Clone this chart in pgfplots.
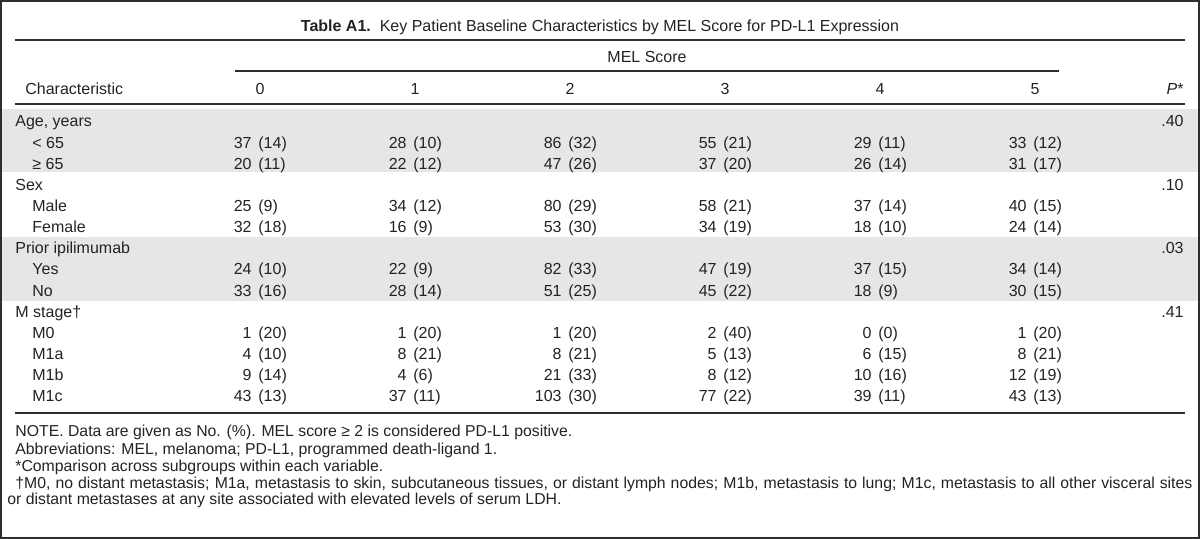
\documentclass[border=0pt]{standalone}
\usepackage{pgfplots}
\usepackage{pgfplotstable}
\pgfplotsset{compat=1.18}
\usepackage{fontspec}
\setmainfont{Liberation Sans}
\definecolor{bandgray}{RGB}{230,230,230}
\definecolor{rulec}{RGB}{45,45,45}
\definecolor{txt}{RGB}{35,35,35}
\newcommand\tf{\fontsize{8}{9.6}\selectfont}
\newcommand\nf{\fontsize{7.9}{9.4}\selectfont}

% row index i: baseline y = 127 + 21.13*i
\pgfplotstableread{
i  n0 p0 n1 p1 n2  p2 n3 p3 n4 p4 n5 p5
1  37 14 28 10 86  32 55 21 29 11 33 12
2  20 11 22 12 47  26 37 20 26 14 31 17
4  25 9  34 12 80  29 58 21 37 14 40 15
5  32 18 16 9  53  30 34 19 18 10 24 14
7  24 10 22 9  82  33 47 19 37 15 34 14
8  33 16 28 14 51  25 45 22 18 9  30 15
10 1  20 1  20 1   20 2  40 0  0  1  20
11 4  10 8  21 8   21 5  13 6  15 8  21
12 9  14 4  6  21  33 8  12 10 16 12 19
13 43 13 37 11 103 30 77 22 39 11 43 13
}\celldata

\pgfplotstableread{
i  x  label
0  15 {Age, years}
1  32 {< 65}
2  32 {≥ 65}
3  15 {Sex}
4  32 {Male}
5  32 {Female}
6  15 {Prior ipilimumab}
7  32 {Yes}
8  32 {No}
9  15 {M stage†}
10 32 {M0}
11 32 {M1a}
12 32 {M1b}
13 32 {M1c}
}\labeldata

\pgfplotstableread{
i p
0 .40
3 .10
6 .03
9 .41
}\pdata

\begin{document}
\begin{tikzpicture}
\begin{axis}[
  hide axis, scale only axis,
  width=600pt, height=269.5pt,
  xmin=0, xmax=1200, ymin=0, ymax=539,
  y dir=reverse, clip=false,
  point meta=explicit symbolic,
]
% shaded bands
\fill[bandgray] (axis cs:2,109) rectangle (axis cs:1198,172.4);
\fill[bandgray] (axis cs:2,236.8) rectangle (axis cs:1198,300.6);
% border
\draw[rulec, line width=1pt] (axis cs:1,1) rectangle (axis cs:1199,538);
% rules
\draw[rulec, line width=1pt] (axis cs:15,40) -- (axis cs:1185,40);
\draw[rulec, line width=1pt] (axis cs:235,71) -- (axis cs:1059,71);
\draw[rulec, line width=1pt] (axis cs:15,104.5) -- (axis cs:1185,104.5);
\draw[rulec, line width=1pt] (axis cs:15,413) -- (axis cs:1185,413);
% title and headers
\node[anchor=base, text=txt, inner sep=0pt] at (axis cs:600,32) {\tf\textbf{Table A1.}\ \ Key Patient Baseline Characteristics by MEL Score for PD-L1 Expression};
\node[anchor=base, text=txt, inner sep=0pt] at (axis cs:647,63) {\tf MEL Score};
\node[anchor=base west, text=txt, inner sep=0pt] at (axis cs:25,95) {\tf Characteristic};
\pgfplotsinvokeforeach{0,...,5}{
  \node[anchor=base, text=txt, inner sep=0pt] at (axis cs:260+155*#1,95) {\tf #1};
}
\node[anchor=base east, text=txt, inner sep=0pt] at (axis cs:1184,95) {\tf\textit{P}*};
% row labels
\addplot[only marks, mark=none, nodes near coords,
  every node near coord/.append style={anchor=base west, inner sep=0pt, text=txt, font=\tf}]
  table[x=x, y expr=127+21.13*\thisrow{i}, meta=label] {\labeldata};
% P values
\addplot[only marks, mark=none, nodes near coords,
  every node near coord/.append style={anchor=base east, inner sep=0pt, text=txt, font=\tf}]
  table[x expr=1184, y expr=127+21.13*\thisrow{i}, meta=p] {\pdata};
% cells
\pgfplotsinvokeforeach{0,...,5}{
\addplot[only marks, mark=none, nodes near coords,
  every node near coord/.append style={anchor=base east, inner sep=0pt, text=txt, font=\tf}]
  table[x expr=252+155*#1, y expr=127+21.13*\thisrow{i}, meta=n#1] {\celldata};
\addplot[only marks, mark=none, nodes near coords={(\pgfplotspointmeta)},
  every node near coord/.append style={anchor=base west, inner sep=0pt, text=txt, font=\tf}]
  table[x expr=258+155*#1, y expr=127+21.13*\thisrow{i}, meta=p#1] {\celldata};
}
% notes
\node[anchor=base west, text=txt, inner sep=0pt] at (axis cs:15,437) {\nf NOTE. Data are given as No. (\%). MEL score ≥ 2 is considered PD-L1 positive.};
\node[anchor=base west, text=txt, inner sep=0pt] at (axis cs:15,455) {\nf Abbreviations: MEL, melanoma; PD-L1, programmed death-ligand 1.};
\node[anchor=base west, text=txt, inner sep=0pt] at (axis cs:15,472) {\nf *Comparison across subgroups within each variable.};
\node[anchor=base west, text=txt, inner sep=0pt] at (axis cs:15,488.5) {\nf\hbox to 588.5pt{†M0, no distant metastasis; M1a, metastasis to skin, subcutaneous tissues, or distant lymph nodes; M1b, metastasis to lung; M1c, metastasis to all other visceral sites}};
\node[anchor=base west, text=txt, inner sep=0pt] at (axis cs:7,505) {\nf or distant metastases at any site associated with elevated levels of serum LDH.};
\end{axis}
\end{tikzpicture}
\end{document}
